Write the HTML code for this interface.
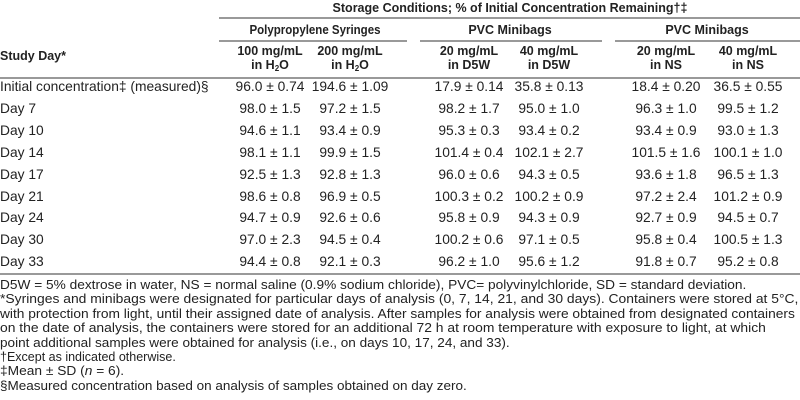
<!DOCTYPE html>
<html><head><meta charset="utf-8"><style>
body{margin:0;width:800px;height:400px;background:#fff;font-family:"Liberation Sans",sans-serif;color:#222;font-size:12.5px;position:relative;overflow:hidden}
.t{position:absolute;white-space:nowrap;line-height:14px}
.c{transform:translateX(-50%);text-align:center}
.b{font-weight:bold}
.r{font-size:13.8px}
.f{position:absolute;left:0;white-space:nowrap;line-height:14px;transform-origin:0 0}
.l{position:absolute;height:2px;background:#999}
sub{font-size:8px;vertical-align:-2px}
</style></head><body>
<div class="t c b" style="left:510px;top:1px">Storage Conditions; % of Initial Concentration Remaining†‡</div>
<div class="l" style="left:219px;width:581px;top:17px"></div>
<div class="t c b" style="left:315px;top:23px;transform:translateX(-50%) scaleX(0.92)">Polypropylene Syringes</div>
<div class="t c b" style="left:510px;top:23px">PVC Minibags</div>
<div class="t c b" style="left:707px;top:23px">PVC Minibags</div>
<div class="l" style="left:219px;width:188px;top:40px"></div>
<div class="l" style="left:420px;width:182px;top:40px"></div>
<div class="l" style="left:615px;width:185px;top:40px"></div>
<div class="t b" style="left:0;top:49px">Study Day*</div>
<div class="t c b" style="left:270px;top:44px">100 mg/mL<br>in H<sub>2</sub>O</div>
<div class="t c b" style="left:350px;top:44px">200 mg/mL<br>in H<sub>2</sub>O</div>
<div class="t c b" style="left:469px;top:44px">20 mg/mL<br>in D5W</div>
<div class="t c b" style="left:549px;top:44px">40 mg/mL<br>in D5W</div>
<div class="t c b" style="left:666px;top:44px">20 mg/mL<br>in NS</div>
<div class="t c b" style="left:748px;top:44px">40 mg/mL<br>in NS</div>
<div class="l" style="left:0;width:800px;top:77px"></div>
<div id="rows"></div>
<div class="l" style="left:0;width:800px;top:273px"></div>
<div class="f" style="top:278px;transform:scaleX(1.095)">D5W = 5% dextrose in water, NS = normal saline (0.9% sodium chloride), PVC= polyvinylchloride, SD = standard deviation.</div>
<div class="f" style="top:292.4px;transform:scaleX(1.11)">*Syringes and minibags were designated for particular days of analysis (0, 7, 14, 21, and 30 days). Containers were stored at 5°C,</div>
<div class="f" style="top:306.8px;transform:scaleX(1.10)">with protection from light, until their assigned date of analysis. After samples for analysis were obtained from designated containers</div>
<div class="f" style="top:321.2px;transform:scaleX(1.11)">on the date of analysis, the containers were stored for an additional 72 h at room temperature with exposure to light, at which</div>
<div class="f" style="top:335.6px;transform:scaleX(1.085)">point additional samples were obtained for analysis (i.e., on days 10, 17, 24, and 33).</div>
<div class="f" style="top:350px;transform:scaleX(1.0)">†Except as indicated otherwise.</div>
<div class="f" style="top:364.4px;transform:scaleX(1.1)">‡Mean ± SD (<i>n</i> = 6).</div>
<div class="f" style="top:379px;transform:scaleX(1.08)">§Measured concentration based on analysis of samples obtained on day zero.</div>
<script>
var d=[["Initial concentration‡ (measured)§","96.0 ± 0.74","194.6 ± 1.09","17.9 ± 0.14","35.8 ± 0.13","18.4 ± 0.20","36.5 ± 0.55"],
["Day 7","98.0 ± 1.5","97.2 ± 1.5","98.2 ± 1.7","95.0 ± 1.0","96.3 ± 1.0","99.5 ± 1.2"],
["Day 10","94.6 ± 1.1","93.4 ± 0.9","95.3 ± 0.3","93.4 ± 0.2","93.4 ± 0.9","93.0 ± 1.3"],
["Day 14","98.1 ± 1.1","99.9 ± 1.5","101.4 ± 0.4","102.1 ± 2.7","101.5 ± 1.6","100.1 ± 1.0"],
["Day 17","92.5 ± 1.3","92.8 ± 1.3","96.0 ± 0.6","94.3 ± 0.5","93.6 ± 1.8","96.5 ± 1.3"],
["Day 21","98.6 ± 0.8","96.9 ± 0.5","100.3 ± 0.2","100.2 ± 0.9","97.2 ± 2.4","101.2 ± 0.9"],
["Day 24","94.7 ± 0.9","92.6 ± 0.6","95.8 ± 0.9","94.3 ± 0.9","92.7 ± 0.9","94.5 ± 0.7"],
["Day 30","97.0 ± 2.3","94.5 ± 0.4","100.2 ± 0.6","97.1 ± 0.5","95.8 ± 0.4","100.5 ± 1.3"],
["Day 33","94.4 ± 0.8","92.1 ± 0.3","96.2 ± 1.0","95.6 ± 1.2","91.8 ± 0.7","95.2 ± 0.8"]];
var cx=[270,350,469,549,666,748],h="";
d.forEach(function(r,i){var y=80+i*21.9;h+='<div class="t r" style="left:0;top:'+y+'px">'+r[0]+'</div>';
for(var j=1;j<7;j++)h+='<div class="t c r" style="left:'+cx[j-1]+'px;top:'+y+'px">'+r[j]+'</div>';});
document.getElementById("rows").innerHTML=h;
</script>
</body></html>
